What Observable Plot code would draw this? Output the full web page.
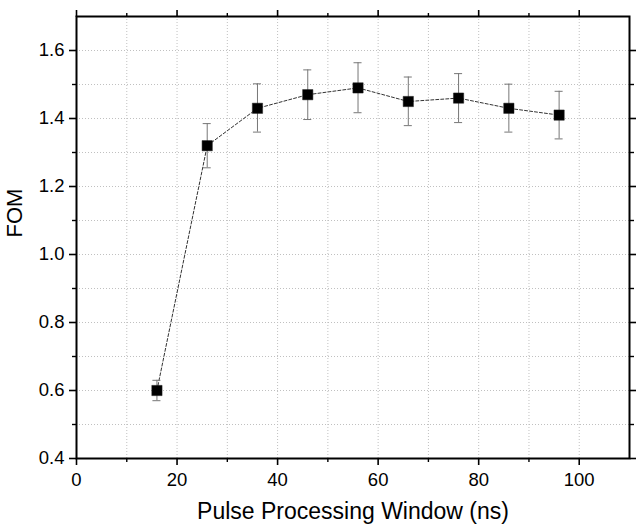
<!DOCTYPE html>
<html>
<head>
<meta charset="utf-8">
<script src="https://cdn.jsdelivr.net/npm/d3@7"></script>
<script src="https://cdn.jsdelivr.net/npm/@observablehq/plot@0.6"></script>
<style>
  html, body { margin: 0; padding: 0; background: white; }
</style>
</head>
<body>
<div id="chart"></div>
<script>
// Data
const windowNs = [16, 26, 36, 46, 56, 66, 76, 86, 96];
const fom      = [0.60, 1.32, 1.43, 1.47, 1.49, 1.45, 1.46, 1.43, 1.41];
const fomLow   = [0.57, 1.255, 1.36, 1.397, 1.417, 1.379, 1.388, 1.36, 1.34];
const fomHigh  = [0.63, 1.385, 1.502, 1.543, 1.564, 1.522, 1.532, 1.501, 1.48];

const xMajorTicks = [0, 20, 40, 60, 80, 100];
const xMinorTicks = [10, 30, 50, 70, 90];
const yMajorTicks = [0.4, 0.6, 0.8, 1.0, 1.2, 1.4, 1.6];
const yMinorTicks = [0.5, 0.7, 0.9, 1.1, 1.3, 1.5];
const xGridTicks  = [10, 20, 30, 40, 50, 60, 70, 80, 90, 100];
const yGridTicks  = [0.5, 0.6, 0.7, 0.8, 0.9, 1.0, 1.1, 1.2, 1.3, 1.4, 1.5, 1.6];

const xTitle = "Pulse Processing Window (ns)";
const yTitle = "FOM";

const data = windowNs.map((x, i) => ({x, y: fom[i], lo: fomLow[i], hi: fomHigh[i]}));
const capHalf = 0.8;
const blank = () => "";

const chart = Plot.plot({
  width: 636,
  height: 531,
  marginTop: 16,
  marginRight: 7,
  marginBottom: 73,
  marginLeft: 76,
  x: {domain: [0, 110]},
  y: {domain: [0.4, 1.7]},
  style: {fontFamily: "'Liberation Sans', Arial, sans-serif", fontSize: "18.5px", color: "black", background: "white"},
  marks: [
    Plot.gridX(xGridTicks, {stroke: "#c0c0c0", strokeOpacity: 1, strokeDasharray: "1,2"}),
    Plot.gridY(yGridTicks, {stroke: "#c0c0c0", strokeOpacity: 1, strokeDasharray: "1,2"}),
    Plot.line(data, {x: "x", y: "y", stroke: "#333", strokeWidth: 1, strokeDasharray: "3,2"}),
    Plot.ruleX(data, {x: "x", y1: "lo", y2: "hi", stroke: "#777", strokeWidth: 1}),
    Plot.ruleY(data, {y: "hi", x1: d => d.x - capHalf, x2: d => d.x + capHalf, stroke: "#777", strokeWidth: 1}),
    Plot.ruleY(data, {y: "lo", x1: d => d.x - capHalf, x2: d => d.x + capHalf, stroke: "#777", strokeWidth: 1}),
    Plot.dot(data, {x: "x", y: "y", symbol: "square", r: 5.8, fill: "black", stroke: "#222", strokeWidth: 0.5}),
    // bottom axis
    Plot.axisX(xMajorTicks, {anchor: "bottom", tickSize: 7, tickPadding: 7, strokeWidth: 1.6, label: null, fontSize: 18.5}),
    Plot.axisX(xMinorTicks, {anchor: "bottom", tickSize: 4, tickFormat: blank, strokeWidth: 1.4, label: null}),
    // top axis
    Plot.axisX(xMajorTicks, {anchor: "top", tickSize: 7, tickFormat: blank, strokeWidth: 1.6, label: null}),
    Plot.axisX(xMinorTicks, {anchor: "top", tickSize: 4, tickFormat: blank, strokeWidth: 1.4, label: null}),
    // left axis
    Plot.axisY(yMajorTicks, {anchor: "left", tickSize: 7, tickPadding: 5, strokeWidth: 1.6, tickFormat: d3.format(".1f"), label: null, fontSize: 18.5}),
    Plot.axisY(yMinorTicks, {anchor: "left", tickSize: 4, tickFormat: blank, strokeWidth: 1.4, label: null}),
    // right axis
    Plot.axisY(yMajorTicks, {anchor: "right", tickSize: 7, tickFormat: blank, strokeWidth: 1.6, label: null}),
    Plot.axisY(yMinorTicks, {anchor: "right", tickSize: 4, tickFormat: blank, strokeWidth: 1.4, label: null}),
    Plot.frame({stroke: "black", strokeWidth: 2}),
    Plot.text([xTitle], {text: d => d, frameAnchor: "bottom", dy: 60, fontSize: 23, fill: "black"}),
    Plot.text([yTitle], {text: d => d, frameAnchor: "left", dx: -62, rotate: -90, fontSize: 22, fill: "black"})
  ]
});

document.getElementById("chart").appendChild(chart);
</script>
</body>
</html>
